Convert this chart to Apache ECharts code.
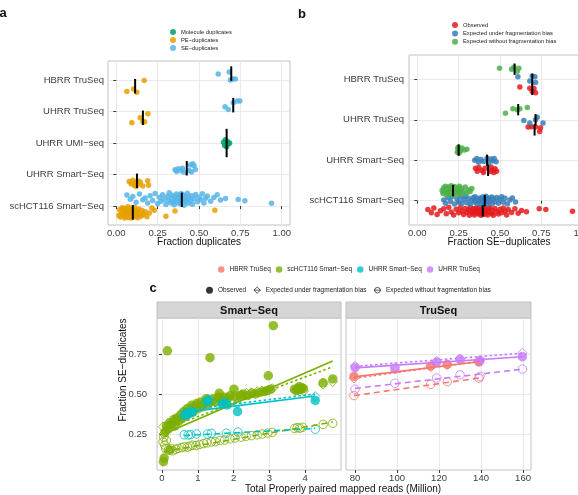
<!DOCTYPE html>
<html>
<head>
<meta charset="utf-8">
<title>duplicates</title>
<script src="https://cdn.jsdelivr.net/npm/echarts@6.0.0/dist/echarts.min.js"></script>
<style>
html, body { margin: 0; padding: 0; background: #fff; }
#fig { width: 578px; height: 495px; }
</style>
</head>
<body>
<div id="fig"></div>
<script>
var FONT = '"Liberation Sans", Arial, Helvetica, sans-serif';
var TXT = '#111', AX = '#3c3c3c', GRID = '#e4e4e4', BORDER = '#c2c2c2';

// ---------------- panel a ----------------
var catsA = ['scHCT116 Smart\u2212Seq', 'UHRR Smart\u2212Seq', 'UHRR UMI\u2212seq', 'UHRR TruSeq', 'HBRR TruSeq'];
var ticksA = [0, 0.25, 0.5, 0.75, 1];
// points: [fraction, vertical jitter from category], one list per category (bottom -> top)
var molA = [[], [], [[0.648,0.02],[0.655,-0.08],[0.66,0.1],[0.667,-0.12],[0.672,0.05],[0.678,-0.03],[0.685,0.0]], [], []];
var peA = [
  [[0.015,-0.30],[0.02,-0.12],[0.025,-0.35],[0.03,-0.22],[0.035,-0.05],[0.04,-0.28],[0.045,-0.15],[0.05,-0.38],[0.05,-0.08],[0.055,-0.25],
   [0.06,-0.32],[0.06,-0.12],[0.065,-0.2],[0.07,-0.36],[0.07,-0.02],[0.075,-0.27],[0.08,-0.14],[0.08,-0.33],[0.085,-0.22],[0.09,-0.06],
   [0.09,-0.38],[0.095,-0.18],[0.10,-0.29],[0.10,-0.1],[0.105,-0.35],[0.11,-0.2],[0.11,-0.04],[0.115,-0.31],[0.12,-0.15],[0.125,-0.26],
   [0.13,-0.37],[0.135,-0.09],[0.14,-0.23],[0.15,-0.32],[0.155,-0.13],[0.165,-0.27],[0.175,-0.18],[0.185,-0.34],[0.20,-0.22],[0.215,-0.06],
   [0.23,-0.13],[0.30,-0.32],[0.355,-0.16],[0.596,-0.13]],
  [[0.078,-0.22],[0.09,-0.3],[0.10,-0.18],[0.11,-0.35],[0.115,-0.25],[0.12,-0.38],[0.13,-0.2],[0.135,-0.3],[0.145,-0.24],[0.16,-0.36],[0.19,-0.2],[0.195,-0.34]],
  [],
  [[0.094,-0.36],[0.145,-0.2],[0.161,-0.33],[0.171,-0.33],[0.191,-0.07]],
  [[0.064,-0.37],[0.104,-0.29],[0.124,-0.39],[0.169,-0.02]]
];
var seA = [
  [[0.064,0.35],[0.085,0.22],[0.10,0.3],[0.12,0.12],[0.14,0.38],[0.16,0.2],[0.175,0.26],[0.19,0.1],[0.205,0.33],[0.22,0.18],
   [0.235,0.4],[0.25,0.08],[0.26,0.28],[0.27,0.15],[0.28,0.36],[0.29,0.22],[0.30,0.05],[0.31,0.3],[0.315,0.17],[0.32,0.42],
   [0.33,0.1],[0.335,0.25],[0.34,0.34],[0.345,0.14],[0.35,0.04],[0.355,0.29],[0.36,0.2],[0.365,0.38],[0.37,0.11],[0.375,0.24],
   [0.38,0.32],[0.385,0.07],[0.39,0.19],[0.393,0.4],[0.396,0.27],[0.40,0.13],[0.405,0.35],[0.41,0.03],[0.415,0.22],[0.42,0.3],
   [0.425,0.16],[0.43,0.41],[0.435,0.09],[0.44,0.26],[0.45,0.18],[0.455,0.33],[0.46,0.06],[0.47,0.23],[0.48,0.37],[0.49,0.14],
   [0.50,0.28],[0.51,0.2],[0.52,0.39],[0.53,0.1],[0.54,0.25],[0.55,0.32],[0.57,0.15],[0.59,0.27],[0.61,0.36],[0.63,0.19],
   [0.66,0.24],[0.737,0.21],[0.777,0.17],[0.938,0.09]],
  [[0.355,0.15],[0.365,0.10],[0.375,0.18],[0.392,0.12],[0.40,0.20],[0.41,0.07],[0.44,0.13],[0.446,0.30],[0.455,0.08],[0.462,0.34],[0.47,0.28],[0.478,0.16]],
  [],
  [[0.657,0.15],[0.677,0.06],[0.707,0.28],[0.731,0.33],[0.747,0.33]],
  [[0.616,0.19],[0.682,0.25],[0.69,0.0],[0.705,0.03],[0.72,0.03]]
];
var medMolA = [null, null, 0.667, null, null];
var medPeA = [0.10, 0.125, null, 0.161, 0.114];
var medSeA = [0.396, 0.426, null, 0.707, 0.695];

// ---------------- panel b ----------------
var catsB = ['scHCT116 Smart\u2212Seq', 'UHRR Smart\u2212Seq', 'UHRR TruSeq', 'HBRR TruSeq'];
var obsB = [
  [[0.064,-0.22],[0.085,-0.3],[0.10,-0.18],[0.12,-0.34],[0.14,-0.25],[0.16,-0.2],[0.175,-0.32],[0.19,-0.16],[0.205,-0.28],[0.22,-0.35],
   [0.235,-0.21],[0.25,-0.3],[0.26,-0.17],[0.27,-0.26],[0.28,-0.34],[0.29,-0.19],[0.30,-0.29],[0.31,-0.23],[0.315,-0.36],[0.32,-0.16],
   [0.33,-0.27],[0.335,-0.31],[0.34,-0.2],[0.345,-0.35],[0.35,-0.24],[0.355,-0.18],[0.36,-0.3],[0.365,-0.22],[0.37,-0.33],[0.375,-0.17],
   [0.38,-0.27],[0.385,-0.36],[0.39,-0.21],[0.393,-0.29],[0.396,-0.19],[0.40,-0.34],[0.405,-0.25],[0.41,-0.16],[0.415,-0.31],[0.42,-0.23],
   [0.425,-0.35],[0.43,-0.2],[0.435,-0.28],[0.44,-0.17],[0.45,-0.32],[0.455,-0.24],[0.46,-0.36],[0.47,-0.19],[0.48,-0.27],[0.49,-0.33],
   [0.50,-0.21],[0.51,-0.3],[0.52,-0.18],[0.53,-0.26],[0.54,-0.35],[0.55,-0.22],[0.57,-0.29],[0.59,-0.2],[0.61,-0.31],[0.63,-0.24],
   [0.66,-0.27],[0.737,-0.2],[0.777,-0.22],[0.938,-0.26]],
  [[0.352,-0.2],[0.362,-0.27],[0.372,-0.18],[0.39,-0.25],[0.40,-0.3],[0.41,-0.2],[0.44,-0.28],[0.446,-0.17],[0.455,-0.24],[0.462,-0.3],[0.47,-0.21],[0.48,-0.27]],
  [[0.67,-0.18],[0.69,-0.17],[0.715,-0.18],[0.74,-0.29],[0.745,-0.2]],
  [[0.62,-0.19],[0.68,-0.22],[0.695,-0.30],[0.715,-0.33],[0.705,-0.23]]
];
var underB = [
  [[0.16,0.02],[0.17,-0.06],[0.185,0.08],[0.2,-0.02],[0.21,0.1],[0.225,-0.08],[0.24,0.04],[0.25,-0.04],[0.26,0.09],[0.27,-0.07],
   [0.28,0.03],[0.29,0.11],[0.3,-0.05],[0.31,0.06],[0.32,-0.09],[0.33,0.01],[0.34,0.08],[0.345,-0.03],[0.35,0.1],[0.36,-0.07],
   [0.365,0.04],[0.37,-0.01],[0.38,0.07],[0.385,-0.08],[0.39,0.02],[0.395,0.09],[0.40,-0.05],[0.405,0.05],[0.41,-0.02],[0.415,0.11],
   [0.42,-0.09],[0.425,0.03],[0.43,0.07],[0.435,-0.04],[0.44,0.0],[0.45,0.09],[0.455,-0.07],[0.46,0.05],[0.47,-0.02],[0.48,0.08],
   [0.49,-0.06],[0.50,0.03],[0.51,0.1],[0.52,-0.04],[0.53,0.06],[0.545,-0.08],[0.56,0.02],[0.575,0.07],[0.594,-0.03]],
  [[0.347,0.0],[0.36,0.04],[0.37,-0.05],[0.385,0.02],[0.40,-0.03],[0.422,0.05],[0.43,-0.06],[0.445,0.03],[0.455,-0.02],[0.465,0.04],[0.477,-0.04]],
  [[0.644,-0.02],[0.68,-0.08],[0.725,0.06],[0.76,-0.08],[0.715,0.0]],
  [[0.608,0.06],[0.68,-0.04],[0.695,0.08],[0.715,-0.08],[0.711,0.06]]
];
var withoutB = [
  [[0.15,0.25],[0.155,0.18],[0.16,0.32],[0.165,0.22],[0.17,0.36],[0.175,0.15],[0.18,0.28],[0.185,0.2],[0.19,0.34],[0.195,0.24],
   [0.2,0.14],[0.2,0.3],[0.205,0.37],[0.21,0.19],[0.21,0.27],[0.215,0.33],[0.22,0.16],[0.22,0.23],[0.225,0.35],[0.23,0.21],
   [0.235,0.29],[0.24,0.14],[0.245,0.31],[0.25,0.2],[0.255,0.36],[0.26,0.25],[0.265,0.17],[0.27,0.3],[0.28,0.22],[0.29,0.34],
   [0.3,0.19],[0.31,0.27],[0.32,0.23],[0.33,0.3]],
  [[0.242,0.2],[0.245,0.3],[0.248,0.25],[0.25,0.33],[0.252,0.18],[0.255,0.28],[0.26,0.22],[0.27,0.3],[0.285,0.25],[0.30,0.27]],
  [[0.533,0.16],[0.578,0.27],[0.62,0.27],[0.665,0.30],[0.604,0.25]],
  [[0.497,0.27],[0.57,0.25],[0.584,0.30],[0.604,0.2],[0.614,0.27]]
];
var medObsB = [0.396, 0.428, 0.709, 0.695];
var medUnderB = [0.408, 0.422, 0.715, 0.695];
var medWithoutB = [0.216, 0.25, 0.61, 0.588];

// ---------------- panel c ----------------
var ticksCy = [0.25, 0.5, 0.75];
var ticksCl = [0, 1, 2, 3, 4];
var ticksCr = [80, 100, 120, 140, 160];
// [reads (million), fraction SE-duplicates]
var obsSC = [[0.04,0.077],[0.06,0.1],[0.22,0.15],[0.15,0.77],[1.34,0.727],[3.11,0.927],[2.97,0.614],[2.01,0.53],[1.6,0.504],[4.5,0.57],[4.77,0.594],
  [3.7,0.53],[3.76,0.522],[3.8,0.535],[3.86,0.528],[3.9,0.54],[3.95,0.533],[3.83,0.545],
  [0.08,0.26],[0.12,0.3],[0.17,0.28],[0.21,0.32],[0.27,0.31],[0.33,0.34],[0.36,0.3],[0.41,0.35],[0.47,0.33],[0.52,0.37],[0.56,0.35],
  [0.61,0.39],[0.66,0.36],[0.71,0.41],[0.74,0.38],[0.79,0.4],[0.83,0.43],[0.88,0.39],[0.92,0.42],[0.97,0.44],[1.02,0.41],[1.08,0.45],
  [1.12,0.42],[1.19,0.44],[1.23,0.47],[1.28,0.43],[1.37,0.45],[1.43,0.47],[1.52,0.45],[1.58,0.48],[1.67,0.46],[1.74,0.48],[1.83,0.47],
  [1.91,0.49],[2.06,0.48],[2.18,0.49],[2.27,0.5],[2.39,0.49],[2.52,0.505],[2.61,0.5],[2.73,0.51],[2.84,0.515],[2.93,0.52],[3.04,0.53]];
var underSC = [[0.03,0.295],[0.05,0.25],[0.1,0.27],[0.16,0.3],[0.24,0.31],[0.37,0.33],[0.49,0.36],[0.66,0.37],[0.81,0.41],[0.94,0.42],
  [1.11,0.43],[1.26,0.45],[1.41,0.46],[1.56,0.465],[1.69,0.475],[1.86,0.48],[2.03,0.49],[2.21,0.495],[2.36,0.505],[2.49,0.51],
  [2.66,0.515],[2.79,0.52],[2.96,0.525],[3.08,0.535],[3.72,0.52],[3.81,0.525],[3.88,0.53],[3.96,0.518],[4.5,0.56],[4.77,0.577]];
var withoutSC = [[0.03,0.2],[0.05,0.23],[0.08,0.18],[0.1,0.16],[0.12,0.21],[0.18,0.15],[0.25,0.16],[0.3,0.145],[0.38,0.155],[0.45,0.16],
  [0.55,0.165],[0.62,0.17],[0.71,0.168],[0.78,0.175],[0.86,0.18],[0.95,0.178],[1.05,0.185],[1.16,0.19],[1.25,0.195],[1.38,0.2],
  [1.49,0.202],[1.62,0.21],[1.75,0.212],[1.9,0.22],[2.04,0.225],[2.21,0.23],[2.35,0.236],[2.5,0.24],[2.66,0.245],[2.8,0.25],
  [2.95,0.256],[3.08,0.26],[3.7,0.285],[3.78,0.29],[3.85,0.286],[3.93,0.292],[4.5,0.31],[4.77,0.317]];
var obsUS = [[0.62,0.365],[0.68,0.38],[0.73,0.372],[0.8,0.39],[0.85,0.385],[1.25,0.455],[1.3,0.462],[1.68,0.44],[1.76,0.445],[1.82,0.432],[2.11,0.39],[4.28,0.46]];
var underUS = [[0.62,0.39],[0.7,0.40],[0.8,0.405],[1.28,0.47],[1.75,0.455],[2.1,0.44],[4.28,0.485]];
var withoutUS = [[0.62,0.245],[0.73,0.244],[0.8,0.246],[0.96,0.25],[1.27,0.25],[1.38,0.254],[1.8,0.255],[2.12,0.262],[4.28,0.28]];
var obsHB = [[79.5,0.61],[116,0.675],[123.9,0.685],[139,0.70]];
var underHB = [[79.5,0.598],[116,0.67],[123.9,0.683],[139,0.705]];
var withoutHB = [[79.5,0.49],[116,0.56],[123.9,0.577],[139,0.60]];
var obsUT = [[80,0.665],[99,0.656],[118.9,0.70],[130,0.717],[139.5,0.708],[159.7,0.733]];
var underUT = [[80,0.675],[99,0.668],[118.9,0.705],[130,0.72],[139.5,0.712],[159.7,0.757]];
var withoutUT = [[80,0.53],[99,0.567],[118.9,0.60],[130,0.62],[139.5,0.61],[159.7,0.656]];
// fitted lines: observed (solid), under bias (dotted), without bias (dashed)
var fitSC = [[[0.05,0.25],[4.77,0.706]], [[0.05,0.28],[4.77,0.67]], [[0.05,0.14],[4.77,0.325]]];
var fitUS = [[[0.62,0.385],[4.28,0.487]], [[0.62,0.40],[4.28,0.50]], [[0.62,0.24],[4.28,0.285]]];
var fitHB = [[[79.5,0.607],[139,0.702]], [[79.5,0.598],[139,0.705]], [[79.5,0.49],[139,0.60]]];
var fitUT = [[[80,0.663],[159.7,0.733]], [[80,0.673],[159.7,0.755]], [[80,0.535],[159.7,0.655]]];

var sampleNames = ['HBRR TruSeq', 'scHCT116 Smart\u2212Seq', 'UHRR Smart\u2212Seq', 'UHRR TruSeq'];
var sampleColors = ['#F8766D', '#7CAE00', '#00BFC4', '#C77CFF'];
var shapeKeys = ['obsKey', 'underKey', 'withoutKey'];
var shapeLabels = ['Observed', 'Expected under fragmentation bias', 'Expected without fragmentation bias'];

// ---------------- helpers ----------------
function place(groups) {
  var out = [];
  groups.forEach(function (g, c) {
    g.forEach(function (p) { out.push([p[0], c + p[1]]); });
  });
  return out;
}
function medianSegs(meds, off, half, ax) {
  var s = [];
  meds.forEach(function (m, c) {
    if (m == null) return;
    s.push({ type: 'line', xAxisIndex: ax, yAxisIndex: ax, symbol: 'none', silent: true, z: 6,
      lineStyle: { color: '#000', width: 2 }, data: [[m, c + off - half], [m, c + off + half]] });
  });
  return s;
}
function jitterScatter(name, groups, color, ax) {
  return { type: 'scatter', name: name, xAxisIndex: ax, yAxisIndex: ax, symbolSize: 5.5, silent: true,
    itemStyle: { color: color, opacity: 0.85 }, data: place(groups) };
}
function fmt2(v) { return v.toFixed(2); }
function xAx(gi, min, max, ticks, f) {
  return { type: 'value', gridIndex: gi, min: min, max: max,
    axisLine: { show: false },
    axisTick: { show: true, length: 3, customValues: ticks, lineStyle: { color: AX } },
    axisLabel: { customValues: ticks, formatter: f, fontSize: 9.5, color: AX, fontFamily: FONT, margin: 3 },
    splitLine: { show: true, lineStyle: { color: GRID, width: 0.8 } } };
}
function yAx(gi, min, max, ticks, f, show, margin) {
  return { type: 'value', gridIndex: gi, min: min, max: max,
    axisLine: { show: false },
    axisTick: { show: show, length: 3, customValues: ticks, lineStyle: { color: AX } },
    axisLabel: { show: show, customValues: ticks, formatter: f, fontSize: 9.5, color: AX, fontFamily: FONT, margin: margin },
    splitLine: { show: true, lineStyle: { color: GRID, width: 0.8 } } };
}
function gridBox(l, t, w, h) {
  return { left: l, top: t, width: w, height: h, show: true, backgroundColor: '#fff',
    borderColor: BORDER, borderWidth: 1, containLabel: false, outerBoundsMode: 'none' };
}
function txt(x, y, s, size, weight, rot) {
  return { type: 'text', x: x, y: y, rotation: rot || 0, silent: true,
    style: { text: s, fill: TXT, font: (weight || 'normal') + ' ' + size + 'px ' + FONT,
      align: 'center', verticalAlign: 'middle' } };
}

// ---------------- series ----------------
var series = [];
series.push(jitterScatter('Molecule duplicates', molA, '#009E73', 0));
series.push(jitterScatter('PE\u2212duplicates', peA, '#E69F00', 0));
series.push(jitterScatter('SE\u2212duplicates', seA, '#56B4E9', 0));
series = series.concat(medianSegs(medMolA, 0, 0.45, 0), medianSegs(medPeA, -0.2, 0.23, 0), medianSegs(medSeA, 0.2, 0.23, 0));

series.push(jitterScatter('Observed', obsB, '#E41A1C', 1));
series.push(jitterScatter('Expected under fragmentation bias', underB, '#377EB8', 1));
series.push(jitterScatter('Expected without fragmentation bias', withoutB, '#4DAF4A', 1));
series = series.concat(medianSegs(medObsB, -0.25, 0.14, 1), medianSegs(medUnderB, 0, 0.14, 1), medianSegs(medWithoutB, 0.25, 0.14, 1));

var samplesC = [
  { i: 1, ax: 2, obs: obsSC, under: underSC, without: withoutSC, fit: fitSC },
  { i: 2, ax: 2, obs: obsUS, under: underUS, without: withoutUS, fit: fitUS },
  { i: 0, ax: 3, obs: obsHB, under: underHB, without: withoutHB, fit: fitHB },
  { i: 3, ax: 3, obs: obsUT, under: underUT, without: withoutUT, fit: fitUT }
];
var dashTypes = ['solid', [2.5, 2.5], [6, 4]];
samplesC.forEach(function (s) {
  var col = sampleColors[s.i], nm = sampleNames[s.i];
  series.push({ type: 'scatter', name: nm, xAxisIndex: s.ax, yAxisIndex: s.ax, symbol: 'circle', symbolSize: 8.5, silent: true, z: 2,
    itemStyle: { color: 'rgba(0,0,0,0)', borderColor: col, borderWidth: 1 }, data: s.without });
  series.push({ type: 'scatter', name: nm, xAxisIndex: s.ax, yAxisIndex: s.ax, symbol: 'diamond', symbolSize: 9.5, silent: true, z: 2,
    itemStyle: { color: 'rgba(0,0,0,0)', borderColor: col, borderWidth: 1 }, data: s.under });
  series.push({ type: 'scatter', name: nm, xAxisIndex: s.ax, yAxisIndex: s.ax, symbol: 'circle', symbolSize: 9.5, silent: true, z: 3,
    itemStyle: { color: col }, data: s.obs });
});
samplesC.forEach(function (s) {
  var col = sampleColors[s.i];
  s.fit.forEach(function (seg, k) {
    series.push({ type: 'line', xAxisIndex: s.ax, yAxisIndex: s.ax, symbol: 'none', silent: true, z: 4,
      lineStyle: { color: col, width: 1.6, type: dashTypes[k] }, data: seg });
  });
});
shapeKeys.forEach(function (k) {
  series.push({ type: 'scatter', name: k, xAxisIndex: 2, yAxisIndex: 2, data: [] });
});

var shapeIcons = ['circle',
  'path://M0,5L10,5M5,0.5L9.5,5L5,9.5L0.5,5Z',
  'path://M1,5A4,4,0,1,1,9,5A4,4,0,1,1,1,5ZM0,5L10,5'];
var shapeStyles = [{ color: '#000', borderWidth: 0 },
  { color: 'none', borderColor: '#1a1a1a', borderWidth: 0.9 },
  { color: 'none', borderColor: '#1a1a1a', borderWidth: 0.9 }];

var legendText = { fontFamily: FONT, color: '#222' };

var option = {
  animation: false,
  backgroundColor: '#fff',
  grid: [gridBox(108, 61, 182, 164), gridBox(409, 55, 182, 170), gridBox(157, 318, 184, 152), gridBox(346, 318, 185, 152)],
  xAxis: [
    xAx(0, -0.05, 1.05, ticksA, fmt2),
    xAx(1, -0.05, 1.05, ticksA, fmt2),
    xAx(2, -0.14, 5.0, ticksCl, function (v) { return String(v); }),
    xAx(3, 75.7, 163.8, ticksCr, function (v) { return String(v); })
  ],
  yAxis: [
    yAx(0, -0.6, 4.6, [0, 1, 2, 3, 4], function (v) { return catsA[v]; }, true, 4),
    yAx(1, -0.6, 3.6, [0, 1, 2, 3], function (v) { return catsB[v]; }, true, 5),
    yAx(2, 0.025, 0.975, ticksCy, fmt2, true, 10),
    yAx(3, 0.025, 0.975, ticksCy, fmt2, false, 4)
  ],
  legend: [
    { orient: 'vertical', left: 170, top: 29, padding: 0, itemWidth: 6, itemHeight: 6, itemGap: 2, icon: 'circle', selectedMode: false,
      textStyle: Object.assign({ fontSize: 5.8 }, legendText), data: ['Molecule duplicates', 'PE\u2212duplicates', 'SE\u2212duplicates'] },
    { orient: 'vertical', left: 452, top: 22, padding: 0, itemWidth: 6, itemHeight: 6, itemGap: 2.4, icon: 'circle', selectedMode: false,
      textStyle: Object.assign({ fontSize: 5.8 }, legendText), data: ['Observed', 'Expected under fragmentation bias', 'Expected without fragmentation bias'] },
    { orient: 'horizontal', left: 218, top: 266, padding: 0, itemWidth: 6.5, itemHeight: 6.5, itemGap: 5, selectedMode: false,
      textStyle: Object.assign({ fontSize: 6.5 }, legendText),
      data: sampleNames.map(function (n, i) { return { name: n, icon: 'circle', itemStyle: { color: sampleColors[i], borderWidth: 0 } }; }) },
    { orient: 'horizontal', left: 206, top: 284.5, padding: 0, itemWidth: 7, itemHeight: 7, itemGap: 5, selectedMode: false,
      textStyle: Object.assign({ fontSize: 6.5 }, legendText),
      formatter: function (n) { return shapeLabels[shapeKeys.indexOf(n)]; },
      data: shapeKeys.map(function (k, i) { return { name: k, icon: shapeIcons[i], itemStyle: shapeStyles[i] }; }) }
  ],
  graphic: [
    txt(3, 13, 'a', 13, 'bold'),
    txt(302, 14, 'b', 13, 'bold'),
    txt(153, 288, 'c', 13, 'bold'),
    txt(199, 242, 'Fraction duplicates', 10),
    txt(499, 242, 'Fraction SE\u2212duplicates', 10),
    { type: 'rect', silent: true, shape: { x: 157, y: 302, width: 184, height: 16 }, style: { fill: '#d6d6d6', stroke: BORDER, lineWidth: 1 } },
    { type: 'rect', silent: true, shape: { x: 346, y: 302, width: 185, height: 16 }, style: { fill: '#d6d6d6', stroke: BORDER, lineWidth: 1 } },
    txt(249, 310.5, 'Smart\u2212Seq', 11, 'bold'),
    txt(438.5, 310.5, 'TruSeq', 11, 'bold'),
    txt(343, 489, 'Total Properly paired mapped reads (Million)', 10),
    txt(123, 370, 'Fraction SE\u2212duplicates', 10, 'normal', Math.PI / 2)
  ],
  series: series
};

var chart = echarts.init(document.getElementById('fig'));
chart.setOption(option);
</script>
</body>
</html>
